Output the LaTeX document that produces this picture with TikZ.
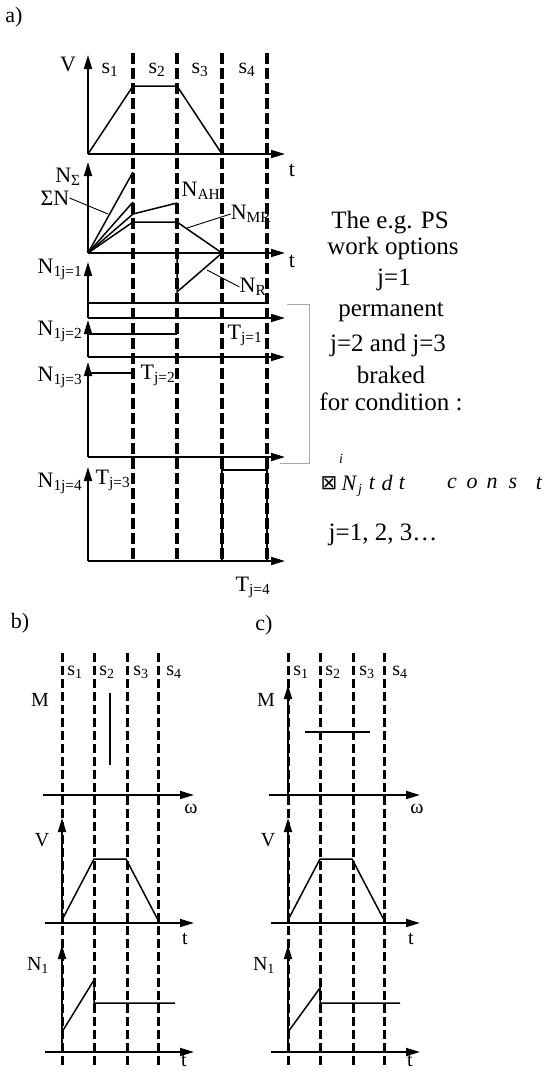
\documentclass[tikz,border=0pt]{standalone}
\usepackage{fontspec}
\setmainfont{Liberation Serif}
\newfontfamily\symfont{DejaVu Sans}
\usetikzlibrary{arrows.meta}
\definecolor{ink}{HTML}{000000}
\definecolor{brace}{HTML}{A8A8A8}

\begin{document}
\begin{tikzpicture}[x=1pt,y=-1pt,
  dashln/.style={ink,line width=3.2pt,dash pattern=on 11pt off 4pt},
  axis/.style={ink,line width=1.8pt,-{Triangle[length=14pt,width=8pt]}},
  curve/.style={ink,line width=1.5pt},
  lead/.style={ink,line width=0.9pt},
  lbl/.style={font=\fontsize{22}{22}\selectfont,inner sep=0pt},
  lblb/.style={font=\fontsize{20}{20}\selectfont,inner sep=0pt},
  note/.style={font=\fontsize{25}{25}\selectfont,inner sep=0pt}]
  \useasboundingbox (0,0) rectangle (545,1071);

  % ---------- a) ----------
  \node[lbl] (lbla) at (14,17) {a)};
  \foreach \x in {133,177,222,267} {
    \draw[dashln] (\x,53) -- (\x,562);
  }
  \foreach \i/\x in {1/110,2/157,3/200,4/247} {
    \node[lbl] (sa\i) at (\x,70) {s\textsubscript{\i}};
  }

  % speed
  \coordinate (Va) at (88,154);
  \draw[axis] (Va) -- (88,55);
  \draw[axis] (Va) -- (285,154);
  \draw[curve] (Va) -- (133,86) -- (177,86) -- (222,154);
  \node[lbl] (V) at (68,64) {V};
  \node[lbl] (ta1) at (292,170) {t};

  % power of the units
  \coordinate (Na) at (88,253);
  \draw[axis] (Na) -- (88,162);
  \draw[axis] (Na) -- (285,253);
  \draw[curve] (Na) -- (133,172);
  \draw[curve] (Na) -- (133,202);
  \draw[curve] (Na) -- (133,214) -- (177,203);
  \draw[curve] (Na) -- (133,222) -- (177,222) -- (222,253) -- (177,292) -- (177,253);
  \node[lbl] (Nsum) at (68,177) {N\textsubscript{Σ}};
  \node[lbl] (SumN) at (55,198) {ΣN};
  \node[lbl] (NAH) at (201,191) {N\textsubscript{AH}};
  \node[lbl] (NMR) at (251,214) {N\textsubscript{MR}};
  \node[lbl] (NR) at (253,287) {N\textsubscript{R}};
  \node[lbl] (ta2) at (292,261) {t};
  \coordinate (pS) at (108,214);
  \coordinate (pMR) at (187,228);
  \coordinate (pR) at (207,270);
  \draw[lead] (SumN.east) -- (pS);
  \draw[lead] (NMR.west) -- (pMR);
  \draw[lead] (NR.west) -- (pR);

  % work options j
  \draw[axis] (88,318) -- (88,262);
  \draw[curve] (88,303) -- (267,303);
  \draw[axis] (88,318) -- (285,318);
  \draw[axis] (88,357) -- (88,320);
  \draw[curve] (88,334) -- (177,334);
  \draw[axis] (88,357) -- (285,357);
  \draw[axis] (88,457) -- (88,362);
  \draw[curve] (88,373) -- (133,373);
  \draw[axis] (88,457) -- (285,457);
  \draw[axis] (88,561) -- (88,467);
  \draw[curve] (222,561) -- (222,470) -- (267,470) -- (267,561);
  \draw[axis] (88,561) -- (285,561);

  \node[lbl] (N1) at (60,269) {N\textsubscript{1j=1}};
  \node[lbl] (N2) at (60,331) {N\textsubscript{1j=2}};
  \node[lbl] (N3) at (60,377) {N\textsubscript{1j=3}};
  \node[lbl] (N4) at (60,483) {N\textsubscript{1j=4}};
  \node[lbl] (T1) at (245,335) {T\textsubscript{j=1}};
  \node[lbl] (T2) at (158,375) {T\textsubscript{j=2}};
  \node[lbl] (T3) at (113,480) {T\textsubscript{j=3}};
  \node[lbl] (T4) at (253,587) {T\textsubscript{j=4}};

  \draw[brace,line width=1pt] (287,304) -- (309,304) -- (309,463) -- (280,463);

  % description
  \node[note] (d1) at (390,223) {The e.g. PS};
  \node[note] (d2) at (393,248) {work options};
  \node[note] (d3) at (394,280) {j=1};
  \node[note] (d4) at (391,312) {permanent};
  \node[note] (d5) at (388,345) {j=2 and j=3};
  \node[note] (d6) at (391,375) {braked};
  \node[note] (d7) at (391,402) {for condition :};
  \node[font=\fontsize{14}{14}\selectfont\itshape,inner sep=0pt] (di) at (341,459) {i};
  \node[font=\fontsize{20}{20}\selectfont\symfont,inner sep=0pt] (dint) at (329,483) {⊠};
  \node[font=\fontsize{22}{22}\selectfont\itshape,inner sep=0pt] (dN) at (349,483) {N};
  \node[font=\fontsize{14}{14}\selectfont\itshape,inner sep=0pt] (dj) at (360,490) {j};
  \foreach \c/\x in {t/372,d/387,t/402,c/452,o/472,n/492,s/513,t/539} {
    \node[font=\fontsize{22}{22}\selectfont\itshape,inner sep=0pt] (dc\x) at (\x,483) {\c};
  }
  \node[note] (d8) at (383,535) {j=1, 2, 3…};

  % ---------- b) and c) ----------
  \node[lbl] (lblb) at (20,623) {b)};
  \node[lbl] (lblc) at (264,625) {c)};
  \foreach \p/\dx in {b/0,c/226} {
    \foreach \x in {62,94,127,158} {
      \draw[ink,line width=3pt,dash pattern=on 9pt off 4pt] (\x+\dx,653) -- (\x+\dx,1068);
    }
    \foreach \i/\x in {1/75,2/107,3/141,4/174} {
      \node[lblb] (s\p\i) at (\x+\dx,672) {s\textsubscript{\i}};
    }
    \draw[axis] (43+\dx,795) -- (194+\dx,795);
    \node[lblb] (w\p) at (191+\dx,809) {ω};
    % speed
    \draw[axis] (62+\dx,923) -- (62+\dx,818);
    \draw[axis] (45+\dx,923) -- (194+\dx,923);
    \draw[curve] (62+\dx,920) -- (94+\dx,859) -- (126+\dx,859) -- (158+\dx,920);
    \node[lblb] (tv\p) at (185+\dx,939) {t};
    % power
    \draw[axis] (62+\dx,1052) -- (62+\dx,945);
    \draw[axis] (45+\dx,1052) -- (194+\dx,1052);
    \node[lblb] (tn\p) at (184+\dx,1061) {t};
    \node[lblb] (M\p) at (40+\dx,700) {M};
    \node[lblb] (V\p) at (42+\dx,840) {V};
    \node[lblb] (N\p) at (38+\dx,965) {N\textsubscript{1}};
  }
  \draw[curve] (62,1032) -- (94,980) -- (94,1003) -- (175,1003);
  \draw[curve] (288,1032) -- (320,988) -- (320,1003) -- (400,1003);
  \draw[curve] (110,693) -- (110,765);
  \draw[axis] (288,795) -- (288,685);
  \draw[curve] (305,732) -- (370,732);
\end{tikzpicture}
\end{document}
